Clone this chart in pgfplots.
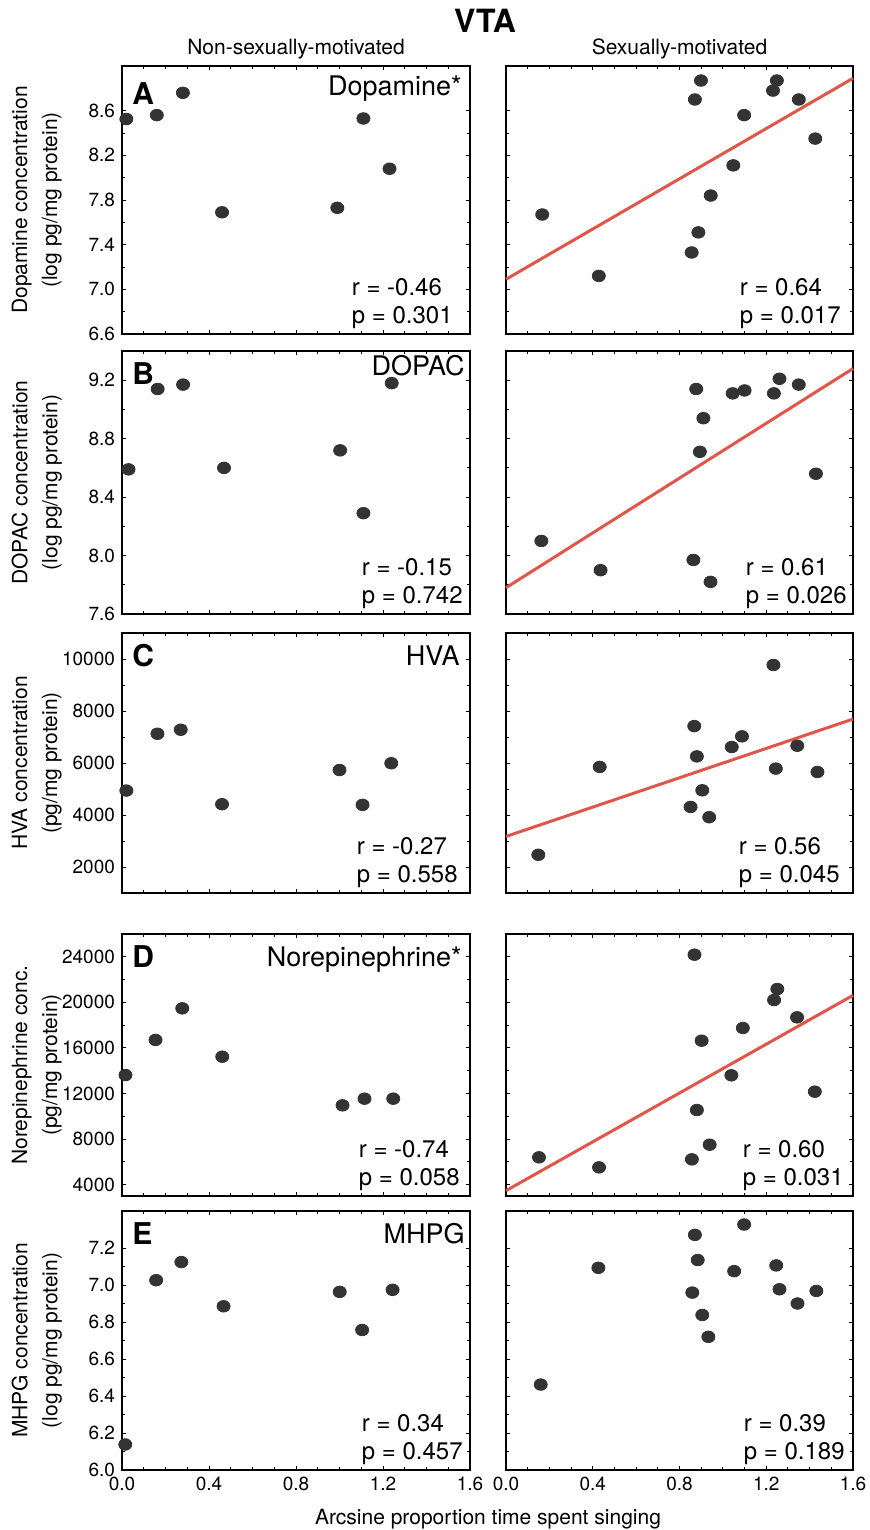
\documentclass[border=0pt]{standalone}
\usepackage{fontspec}
\setmainfont{TeX Gyre Heros}
\usepackage{pgfplots}
\pgfplotsset{compat=1.18}
\definecolor{dotgray}{HTML}{333333}
\definecolor{fitred}{HTML}{E15649}

\pgfplotsset{
  pane/.style={
    scale only axis, clip=false,
    xmin=0, xmax=1.6, xtick={0,0.4,0.8,1.2,1.6}, minor x tick num=3,
    tick align=inside, xtick pos=both, ytick pos=both,
    minor y tick num=1,
    axis line style={line width=0.8pt},
    tick style={black, line width=0.5pt},
    major tick length=2pt, minor tick length=1.3pt,
    ticklabel style={font=\fontsize{9.5}{10}\selectfont},
    /pgf/number format/assume math mode=true,
    ylabel style={at={(axis description cs:-0.245,0.5)}, anchor=center,
      align=center, font=\fontsize{10.5}{15}\selectfont},
  },
  noxlab/.style={xticklabels={}},
  noylab/.style={yticklabels={}},
  xlab/.style={xticklabel style={/pgf/number format/fixed, /pgf/number format/fixed zerofill,
      /pgf/number format/precision=1}},
  logy/.style={yticklabel style={/pgf/number format/fixed, /pgf/number format/fixed zerofill,
      /pgf/number format/precision=1}},
  rawy/.style={scaled y ticks=false, yticklabel style={/pgf/number format/fixed,
      /pgf/number format/precision=0, /pgf/number format/1000 sep={}}},
  dots/.style={only marks, mark=*, mark size=2.9pt, color=dotgray, mark options={xscale=1.13}},
  fitline/.style={color=fitred, line width=1.5pt, no marks},
}
\tikzset{
  letter/.style={anchor=north west, inner sep=0pt, font=\bfseries\fontsize{15}{16}\selectfont},
  pname/.style={anchor=north east, inner sep=0pt, font=\fontsize{13.5}{15}\selectfont},
  stat/.style={anchor=south east, inner sep=0pt, align=left, font=\fontsize{12}{14}\selectfont},
}

\begin{document}
\begin{tikzpicture}
\useasboundingbox (0pt,0pt) rectangle (434.5pt,-765pt);

% ---------- row A: dopamine ----------
\begin{axis}[pane, noxlab, logy, at={(61pt,-167pt)}, anchor=south west,
  width=174pt, height=134pt, ymin=6.6, ymax=9.0, ytick={6.6,7.0,7.4,7.8,8.2,8.6},
  ylabel={Dopamine concentration\\(log pg/mg protein)}]
\addplot[dots] coordinates {
  (0.02,8.525) (0.16,8.56) (0.28,8.76) (0.46,7.69) (0.99,7.73) (1.11,8.53) (1.23,8.08)
};
\node[letter, xshift=5pt, yshift=-8pt] at (rel axis cs:0,1) {A};
\node[pname, xshift=-4pt, yshift=-4.5pt] at (rel axis cs:1,1) {Dopamine*};
\node[stat, xshift=-8.5pt, yshift=2.5pt] at (rel axis cs:1,0) {r = -0.46\\p = 0.301};
\end{axis}

\begin{axis}[pane, noxlab, noylab, at={(253pt,-167pt)}, anchor=south west,
  width=173.5pt, height=134pt, ymin=6.6, ymax=9.0, ytick={6.6,7.0,7.4,7.8,8.2,8.6}]
\addplot[fitline] coordinates {(0,7.09) (1.6,8.89)};
\addplot[dots] coordinates {
  (0.167,7.67) (0.428,7.12) (0.856,7.33) (0.887,7.51) (0.944,7.84) (1.048,8.11)
  (1.098,8.56) (0.871,8.70) (0.899,8.87) (1.231,8.78) (1.249,8.87) (1.35,8.70) (1.426,8.35)
};
\node[stat, xshift=-6pt, yshift=2.5pt] at (rel axis cs:1,0) {r = 0.64\\p = 0.017};
\end{axis}

% ---------- row B: DOPAC ----------
\begin{axis}[pane, noxlab, logy, at={(61pt,-307pt)}, anchor=south west,
  width=174pt, height=131.5pt, ymin=7.6, ymax=9.4, ytick={7.6,8.0,8.4,8.8,9.2},
  ylabel={DOPAC concentration\\(log pg/mg protein)}]
\addplot[dots] coordinates {
  (0.03,8.59) (0.164,9.14) (0.281,9.17) (0.469,8.60) (1.003,8.72) (1.11,8.29) (1.24,9.18)
};
\node[letter, xshift=5pt, yshift=-5.5pt] at (rel axis cs:0,1) {B};
\node[pname, xshift=-2.5pt, yshift=-2pt] at (rel axis cs:1,1) {DOPAC};
\node[stat, xshift=-3.5pt, yshift=2.5pt] at (rel axis cs:1,0) {r = -0.15\\p = 0.742};
\end{axis}

\begin{axis}[pane, noxlab, noylab, at={(253pt,-307pt)}, anchor=south west,
  width=173.5pt, height=131.5pt, ymin=7.6, ymax=9.4, ytick={7.6,8.0,8.4,8.8,9.2}]
\addplot[fitline] coordinates {(0,7.78) (1.6,9.28)};
\addplot[dots] coordinates {
  (0.163,8.10) (0.436,7.90) (0.864,7.97) (0.943,7.82) (0.894,8.71) (0.91,8.94) (0.877,9.14)
  (1.045,9.11) (1.10,9.13) (1.235,9.11) (1.261,9.21) (1.35,9.17) (1.429,8.56)
};
\node[stat, xshift=-3pt, yshift=2.5pt] at (rel axis cs:1,0) {r = 0.61\\p = 0.026};
\end{axis}

% ---------- row C: HVA ----------
\begin{axis}[pane, noxlab, rawy, at={(61pt,-446.5pt)}, anchor=south west,
  width=174pt, height=130pt, ymin=1000, ymax=11000, ytick={2000,4000,6000,8000,10000},
  ylabel={HVA concentration\\(pg/mg protein)}]
\addplot[dots] coordinates {
  (0.02,4940) (0.163,7125) (0.27,7280) (0.46,4415) (1.00,5730) (1.106,4390) (1.238,5990)
};
\node[letter, xshift=5pt, yshift=-5.3pt] at (rel axis cs:0,1) {C};
\node[pname, xshift=-5pt, yshift=-6pt] at (rel axis cs:1,1) {HVA};
\node[stat, xshift=-6pt, yshift=2.5pt] at (rel axis cs:1,0) {r = -0.27\\p = 0.558};
\end{axis}

\begin{axis}[pane, noxlab, noylab, scaled y ticks=false, at={(253pt,-446.5pt)}, anchor=south west,
  width=173.5pt, height=130pt, ymin=1000, ymax=11000, ytick={2000,4000,6000,8000,10000}]
\addplot[fitline] coordinates {(0,3175) (1.6,7690)};
\addplot[dots] coordinates {
  (0.149,2470) (0.432,5850) (0.868,7420) (0.880,6255) (0.905,4950) (0.851,4310) (0.937,3915)
  (1.041,6615) (1.088,7025) (1.233,9770) (1.244,5785) (1.343,6665) (1.436,5655)
};
\node[stat, xshift=-6.5pt, yshift=2.5pt] at (rel axis cs:1,0) {r = 0.56\\p = 0.045};
\end{axis}

% ---------- row D: norepinephrine ----------
\begin{axis}[pane, noxlab, rawy, at={(61pt,-598pt)}, anchor=south west,
  width=174pt, height=131pt, ymin=3000, ymax=26000, ytick={4000,8000,12000,16000,20000,24000},
  ylabel={Norepinephrine conc.\\(pg/mg protein)}]
\addplot[dots] coordinates {
  (0.016,13620) (0.154,16700) (0.277,19475) (0.461,15230) (1.014,10960) (1.115,11545) (1.247,11545)
};
\node[letter, xshift=5pt, yshift=-5.5pt] at (rel axis cs:0,1) {D};
\node[pname, xshift=-4pt, yshift=-6.3pt] at (rel axis cs:1,1) {Norepinephrine*};
\node[stat, xshift=-5pt, yshift=2.5pt] at (rel axis cs:1,0) {r = -0.74\\p = 0.058};
\end{axis}

\begin{axis}[pane, noxlab, noylab, scaled y ticks=false, at={(253pt,-598pt)}, anchor=south west,
  width=173.5pt, height=131pt, ymin=3000, ymax=26000, ytick={4000,8000,12000,16000,20000,24000}]
\addplot[fitline] coordinates {(0,3470) (1.6,20615)};
\addplot[dots] coordinates {
  (0.152,6395) (0.429,5515) (0.857,6220) (0.880,10550) (0.939,7505) (0.869,24185) (0.902,16635)
  (1.039,13595) (1.092,17750) (1.236,20205) (1.251,21170) (1.342,18685) (1.424,12160)
};
\node[stat, xshift=-4.5pt, yshift=2.5pt] at (rel axis cs:1,0) {r = 0.60\\p = 0.031};
\end{axis}

% ---------- row E: MHPG ----------
\begin{axis}[pane, xlab, logy, at={(61pt,-735pt)}, anchor=south west,
  width=174pt, height=129.5pt, ymin=6.0, ymax=7.4, ytick={6.0,6.2,6.4,6.6,6.8,7.0,7.2},
  ylabel={MHPG concentration\\(log pg/mg protein)}]
\addplot[dots] coordinates {
  (0.015,6.138) (0.157,7.026) (0.273,7.124) (0.467,6.885) (1.001,6.963) (1.104,6.757) (1.244,6.974)
};
\node[letter, xshift=5pt, yshift=-5.5pt] at (rel axis cs:0,1) {E};
\node[pname, xshift=-2.5pt, yshift=-6pt] at (rel axis cs:1,1) {MHPG};
\node[stat, xshift=-3.5pt, yshift=2.5pt] at (rel axis cs:1,0) {r = 0.34\\p = 0.457};
\end{axis}

\begin{axis}[pane, xlab, noylab, at={(253pt,-735pt)}, anchor=south west,
  width=173.5pt, height=129.5pt, ymin=6.0, ymax=7.4, ytick={6.0,6.2,6.4,6.6,6.8,7.0,7.2}]
\addplot[dots] coordinates {
  (0.160,6.462) (0.426,7.093) (0.871,7.271) (0.884,7.135) (0.859,6.959) (0.905,6.838) (0.933,6.720)
  (1.052,7.075) (1.098,7.327) (1.246,7.106) (1.261,6.977) (1.344,6.900) (1.431,6.968)
};
\node[stat, xshift=-4pt, yshift=2.5pt] at (rel axis cs:1,0) {r = 0.39\\p = 0.189};
\end{axis}

% titles and shared x label
\node[anchor=base, font=\bfseries\fontsize{16}{18}\selectfont] at (242.5pt,-16.5pt) {VTA};
\node[anchor=base, font=\fontsize{10.5}{12}\selectfont] at (148pt,-27.5pt) {Non-sexually-motivated};
\node[anchor=base, font=\fontsize{10.5}{12}\selectfont] at (339.75pt,-27.5pt) {Sexually-motivated};
\node[anchor=base, font=\fontsize{10.5}{12}\selectfont] at (244pt,-762pt) {Arcsine proportion time spent singing};
\end{tikzpicture}
\end{document}
